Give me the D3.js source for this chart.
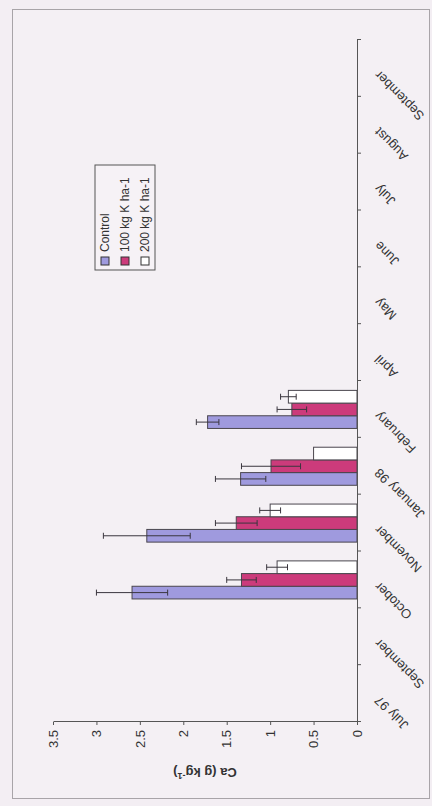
<!DOCTYPE html>
<html><head><meta charset="utf-8">
<script src="https://cdn.jsdelivr.net/npm/d3@7"></script>
<style>html,body{margin:0;padding:0;background:#f3eef3;} svg{display:block;}</style>
</head><body>
<script>
const months = ["July 97","September","October","November","January 98","February","April","May","June","July","August","September"];
const seriesNames = ["Control","100 kg K ha-1","200 kg K ha-1"];
const controlValues = [null,null,2.59,2.42,1.34,1.72,null,null,null,null,null,null];
const k100Values    = [null,null,1.33,1.39,0.99,0.75,null,null,null,null,null,null];
const k200Values    = [null,null,0.92,1.00,0.50,0.79,null,null,null,null,null,null];
const controlErrors = [null,null,0.41,0.50,0.29,0.13,null,null,null,null,null,null];
const k100Errors    = [null,null,0.17,0.24,0.34,0.17,null,null,null,null,null,null];
const k200Errors    = [null,null,0.12,0.12,0.00,0.09,null,null,null,null,null,null];
const yTicks = [0,0.5,1,1.5,2,2.5,3,3.5];
const yTickLabels = ["0","0.5","1","1.5","2","2.5","3","3.5"];
const seriesColors = ["#9f9ade","#cc3b7b","#ffffff"];

const W = 432, H = 806;
const svg = d3.select("body").append("svg").attr("width", W).attr("height", H)
  .style("font-family", "Arial, 'Liberation Sans', sans-serif");
svg.append("rect").attr("x",0).attr("y",0).attr("width",W).attr("height",H).attr("fill","#f3eef3");
svg.append("rect").attr("x",12.5).attr("y",9.5).attr("width",417).attr("height",789)
  .attr("fill","#f4f0f4").attr("stroke","#a8a4a8").attr("stroke-width",1);

// chart drawn in its original (unrotated) frame, then turned 90° counter-clockwise
const g = svg.append("g").attr("transform", `translate(0,${H}) rotate(-90)`);
const axisY = 357, left = 84, right = 766;

const x = d3.scaleBand().domain(d3.range(months.length)).range([left, right]).padding(0);
const xInner = d3.scaleBand().domain([0,1,2]).range([0, x.bandwidth()]).paddingInner(0).paddingOuter(0.74);
const y = d3.scaleLinear().domain([0, 3.5]).range([axisY, 53]);
const xLin = d3.scaleLinear().domain([0, months.length]).range([left, right]);

const series = [
  {name: seriesNames[0], values: controlValues, errors: controlErrors, color: seriesColors[0]},
  {name: seriesNames[1], values: k100Values, errors: k100Errors, color: seriesColors[1]},
  {name: seriesNames[2], values: k200Values, errors: k200Errors, color: seriesColors[2]},
];

// bars
series.forEach((s, si) => {
  const data = s.values.map((v, i) => ({i, v, e: s.errors[i]})).filter(d => d.v != null);
  g.append("g").selectAll("rect").data(data).join("rect")
    .attr("x", d => x(d.i) + xInner(si))
    .attr("y", d => y(d.v))
    .attr("width", xInner.bandwidth())
    .attr("height", d => y(0) - y(d.v))
    .attr("fill", s.color).attr("stroke", "#4a464e").attr("stroke-width", 1);
});
// error bars
series.forEach((s, si) => {
  const data = s.values.map((v, i) => ({i, v, e: s.errors[i]})).filter(d => d.v != null && d.e > 0);
  const eg = g.append("g").attr("stroke", "#3a363e").attr("stroke-width", 1);
  data.forEach(d => {
    const cx = x(d.i) + xInner(si) + xInner.bandwidth() / 2;
    eg.append("line").attr("x1", cx).attr("x2", cx).attr("y1", y(d.v - d.e)).attr("y2", y(d.v + d.e));
    [d.v - d.e, d.v + d.e].forEach(t => {
      eg.append("line").attr("x1", cx - 3).attr("x2", cx + 3).attr("y1", y(t)).attr("y2", y(t));
    });
  });
});

// value axis
const ya = g.append("g").attr("transform", `translate(${left},0)`)
  .call(d3.axisLeft(y).tickValues(yTicks).tickSize(3).tickSizeOuter(0).tickPadding(5)
    .tickFormat((d, i) => yTickLabels[i]));
ya.selectAll("path,line").attr("stroke", "#555");
ya.selectAll("text").attr("font-size", 13).attr("fill", "#333").attr("font-family", "Arial, 'Liberation Sans', sans-serif");

// category axis
const xa = g.append("g").attr("transform", `translate(0,${axisY})`)
  .call(d3.axisBottom(xLin).tickValues(d3.range(months.length + 1)).tickSize(4).tickSizeOuter(0).tickFormat(""));
xa.selectAll("path,line").attr("stroke", "#555");

g.append("g").selectAll("text").data(months).join("text")
  .attr("transform", (d, i) => `translate(${x(i) + x.bandwidth() / 2 - 1.5},${axisY + 23}) rotate(-45)`)
  .attr("text-anchor", "end").attr("font-size", 13).attr("fill", "#333")
  .text(d => d);

// axis title
const title = g.append("text")
  .attr("transform", `translate(${left - 46},${(y(0) + y(3.5)) / 2}) rotate(-90)`)
  .attr("text-anchor", "middle").attr("font-size", 13).attr("font-weight", "bold").attr("fill", "#333");
title.append("tspan").text("Ca (g kg");
title.append("tspan").attr("dy", -5).attr("font-size", 9).text("-1");
title.append("tspan").attr("dy", 5).text(")");

// legend
const lg = g.append("g").attr("transform", "translate(536,95)");
lg.append("rect").attr("width", 105).attr("height", 60).attr("fill", "#f6f2f6").attr("stroke", "#555");
series.forEach((s, si) => {
  const row = lg.append("g").attr("transform", `translate(5,${10 + si * 20})`);
  row.append("rect").attr("x", 0).attr("y", -4).attr("width", 8).attr("height", 8)
    .attr("fill", s.color).attr("stroke", "#333");
  row.append("text").attr("x", 13).attr("dy", "0.35em").attr("font-size", 12).attr("fill", "#333").text(s.name);
});
</script>
</body></html>
